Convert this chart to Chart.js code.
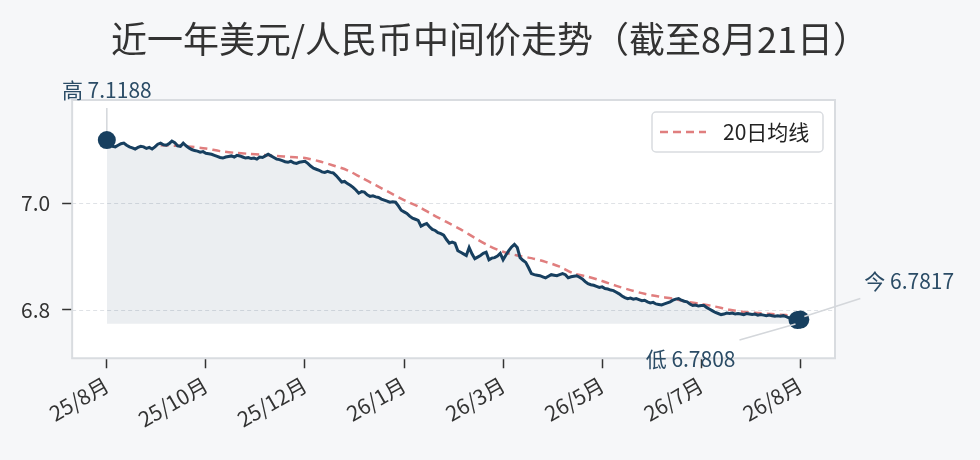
<!DOCTYPE html>
<html>
<head>
<meta charset="utf-8">
<script src="https://cdn.jsdelivr.net/npm/chart.js@4.4.1/dist/chart.umd.min.js"></script>
<style>
  html, body { margin: 0; padding: 0; background: #f6f7f9; }
  #rateChart { display: block; }
</style>
</head>
<body>
<canvas id="rateChart" width="980" height="460"></canvas>
<script>
'use strict'

var FONT = '"Noto Sans CJK SC", "Noto Sans", sans-serif';

var chartTitle = '近一年美元/人民币中间价走势（截至8月21日）';
var maLabel = '20日均线';

// x axis: trading-day index, month labels at every 35th day
var xTickIndex = [0, 35, 70, 105, 140, 175, 210, 245];
var xTickLabels = ['25/8月', '25/10月', '25/12月', '26/1月', '26/3月', '26/5月', '26/7月', '26/8月'];
var yTickValues = [6.8, 7.0];

// daily central parity
var rates = [
  7.1188, 7.110, 7.107, 7.106, 7.109, 7.112, 7.113, 7.109, 7.106, 7.104,
  7.102, 7.105, 7.107, 7.106, 7.103, 7.105, 7.102, 7.106, 7.111, 7.113,
  7.110, 7.109, 7.112, 7.117, 7.114, 7.108, 7.107, 7.113, 7.108, 7.104,
  7.101, 7.099, 7.098, 7.096, 7.097, 7.094, 7.093, 7.092, 7.090, 7.088,
  7.086, 7.085, 7.087, 7.088, 7.089, 7.087, 7.090, 7.089, 7.087, 7.085,
  7.086, 7.084, 7.085, 7.083, 7.087, 7.086, 7.089, 7.092, 7.089, 7.086,
  7.083, 7.082, 7.080, 7.078, 7.077, 7.079, 7.076, 7.075, 7.077, 7.078,
  7.079, 7.075, 7.070, 7.066, 7.064, 7.062, 7.059, 7.058, 7.060, 7.058,
  7.057, 7.052, 7.046, 7.040, 7.041, 7.037, 7.034, 7.030, 7.025, 7.019,
  7.022, 7.021, 7.016, 7.013, 7.014, 7.012, 7.011, 7.008, 7.006, 7.004,
  7.002, 7.003, 7.002, 6.995, 6.987, 6.984, 6.981, 6.976, 6.972, 6.970,
  6.968, 6.957, 6.960, 6.962, 6.956, 6.951, 6.949, 6.945, 6.943, 6.940,
  6.932, 6.925, 6.927, 6.925, 6.911, 6.908, 6.905, 6.902, 6.917, 6.905,
  6.896, 6.899, 6.902, 6.906, 6.908, 6.894, 6.897, 6.898, 6.901, 6.906,
  6.894, 6.903, 6.911, 6.918, 6.923, 6.917, 6.898, 6.893, 6.889, 6.879,
  6.868, 6.866, 6.865, 6.864, 6.862, 6.860, 6.863, 6.866, 6.865, 6.864,
  6.866, 6.868, 6.866, 6.860, 6.862, 6.863, 6.864, 6.861, 6.858, 6.853,
  6.849, 6.847, 6.846, 6.844, 6.842, 6.843, 6.840, 6.839, 6.837, 6.836,
  6.833, 6.830, 6.826, 6.823, 6.821, 6.822, 6.820, 6.821, 6.819, 6.817,
  6.818, 6.815, 6.813, 6.814, 6.811, 6.810, 6.809, 6.811, 6.813, 6.815,
  6.818, 6.820, 6.821, 6.818, 6.816, 6.815, 6.811, 6.808, 6.809, 6.807,
  6.808, 6.808, 6.804, 6.801, 6.798, 6.795, 6.793, 6.791, 6.792, 6.794,
  6.793, 6.794, 6.792, 6.793, 6.792, 6.791, 6.793, 6.792, 6.791, 6.792,
  6.790, 6.791, 6.790, 6.789, 6.790, 6.789, 6.788, 6.789, 6.788, 6.789,
  6.787, 6.785, 6.783, 6.7815, 6.7808, 6.7817
];

// 20-day average
var maIndex = [19, 25, 30, 35, 40, 45, 50, 55, 60, 65, 70, 75, 80, 85, 90, 95,
  100, 105, 110, 115, 120, 125, 130, 135, 140, 145, 150, 155, 160, 165, 170,
  175, 180, 185, 190, 195, 200, 205, 210, 215, 220, 225, 230, 235, 240, 245];
var maValues = [7.109, 7.108, 7.106, 7.103, 7.098, 7.095, 7.093, 7.091, 7.089,
  7.087, 7.085, 7.079, 7.071, 7.062, 7.048, 7.034, 7.020, 7.006, 6.994, 6.979,
  6.965, 6.951, 6.935, 6.920, 6.909, 6.902, 6.897, 6.890, 6.881, 6.868, 6.862,
  6.854, 6.845, 6.837, 6.830, 6.825, 6.821, 6.815, 6.811, 6.806, 6.800, 6.796,
  6.794, 6.792, 6.790, 6.788];

var highIndex = 0;
var lowIndex = 244;
var lastIndex = rates.length - 1;
var fillBase = 6.7736;

var ratePoints = rates.map(function (v, i) { return { x: i, y: v }; });
var maPoints = maValues.map(function (v, i) { return { x: maIndex[i], y: v }; });

// title centred on the page, white plot area, frame and dashed grid
var framePlugin = {
  id: 'frame',
  beforeDatasetsDraw: function (chart) {
    var c = chart.ctx, a = chart.chartArea, y = chart.scales.y;
    c.save();
    c.fillStyle = '#333333';
    c.font = '36px ' + FONT;
    c.textAlign = 'center';
    c.textBaseline = 'middle';
    c.fillText(chartTitle, chart.width / 2, 39);

    c.fillStyle = '#ffffff';
    c.fillRect(a.left, a.top, a.right - a.left, a.bottom - a.top);
    c.strokeStyle = '#dfe2e6';
    c.lineWidth = 1;
    c.setLineDash([4, 3]);
    yTickValues.forEach(function (v) {
      var py = Math.round(y.getPixelForValue(v)) + 0.5;
      c.beginPath();
      c.moveTo(a.left, py);
      c.lineTo(a.right, py);
      c.stroke();
    });
    c.setLineDash([]);
    c.strokeStyle = '#d9dce0';
    c.lineWidth = 2;
    c.strokeRect(a.left, a.top, a.right - a.left, a.bottom - a.top);
    c.restore();
  }
};

// labels for high / low / latest plus the small legend box
var notesPlugin = {
  id: 'notes',
  afterDatasetsDraw: function (chart) {
    var c = chart.ctx, x = chart.scales.x, y = chart.scales.y, a = chart.chartArea;
    var hx = x.getPixelForValue(highIndex), hy = y.getPixelForValue(rates[highIndex]);
    var lx = x.getPixelForValue(lowIndex), ly = y.getPixelForValue(rates[lowIndex]);
    var nx = x.getPixelForValue(lastIndex), ny = y.getPixelForValue(rates[lastIndex]);

    c.save();
    c.strokeStyle = '#d4d7db';
    c.lineWidth = 1.5;
    c.beginPath();
    c.moveTo(hx, hy - 9); c.lineTo(hx, hy - 32);
    c.moveTo(lx - 2, ly + 4); c.lineTo(lx - 58, ly + 20);
    c.moveTo(nx + 4, ny - 3); c.lineTo(nx + 60, ny - 21);
    c.stroke();

    c.fillStyle = '#2b4c66';
    c.font = '21px ' + FONT;
    c.textBaseline = 'middle';
    c.textAlign = 'center';
    c.fillText('高 ' + rates[highIndex].toFixed(4), hx, hy - 50);
    c.textAlign = 'right';
    c.fillText('低 ' + rates[lowIndex].toFixed(4), lx - 62, ly + 39);
    c.textAlign = 'left';
    c.fillText('今 ' + rates[lastIndex].toFixed(4), nx + 64, ny - 39);

    // legend
    var bw = 171, bh = 40, bx = a.right - 12 - bw, by = a.top + 12;
    c.fillStyle = 'rgba(255,255,255,0.9)';
    c.strokeStyle = '#d9dce0';
    c.lineWidth = 1.5;
    c.beginPath();
    c.roundRect(bx, by, bw, bh, 4);
    c.fill();
    c.stroke();
    c.strokeStyle = '#e07e7e';
    c.lineWidth = 2.5;
    c.setLineDash([8, 5]);
    c.beginPath();
    c.moveTo(bx + 8, by + bh / 2);
    c.lineTo(bx + 54, by + bh / 2);
    c.stroke();
    c.setLineDash([]);
    c.fillStyle = '#222222';
    c.font = '21px ' + FONT;
    c.textAlign = 'left';
    c.fillText(maLabel, bx + 71, by + bh / 2);
    c.restore();
  }
};

var ctx = document.getElementById('rateChart');

var rateChart = new Chart(ctx, {
  type: 'line',
  data: {
    datasets: [
      {
        label: '中间价',
        data: ratePoints,
        borderColor: '#173f5f',
        borderWidth: 3,
        backgroundColor: 'rgba(31,70,105,0.09)',
        fill: { value: fillBase },
        tension: 0,
        pointRadius: function (c) {
          var i = c.dataIndex;
          return (i === highIndex || i === lowIndex || i === lastIndex) ? 9 : 0;
        },
        pointBackgroundColor: '#173f5f',
        pointBorderWidth: 0,
        order: 1
      },
      {
        label: maLabel,
        data: maPoints,
        borderColor: '#e07e7e',
        borderWidth: 2.5,
        borderDash: [8, 5],
        pointRadius: 0,
        fill: false,
        tension: 0.3,
        order: 2
      }
    ]
  },
  options: {
    responsive: false,
    animation: false,
    layout: { padding: { left: 9, right: 145, top: 100, bottom: 24 } },
    plugins: {
      legend: { display: false },
      tooltip: { enabled: false },
      title: { display: false }
    },
    scales: {
      x: {
        type: 'linear',
        min: -12.25,
        max: 257.25,
        afterBuildTicks: function (axis) {
          axis.ticks = xTickIndex.map(function (v) { return { value: v }; });
        },
        ticks: {
          callback: function (v) { return xTickLabels[xTickIndex.indexOf(v)]; },
          color: '#333333',
          font: { family: FONT, size: 21 },
          minRotation: 30,
          maxRotation: 30,
          padding: 4
        },
        grid: { drawOnChartArea: false, drawTicks: true, tickLength: 10, tickColor: '#333333', tickWidth: 1.5 },
        border: { display: false }
      },
      y: {
        min: 6.709,
        max: 7.194,
        afterBuildTicks: function (axis) {
          axis.ticks = yTickValues.map(function (v) { return { value: v }; });
        },
        ticks: {
          callback: function (v) { return v.toFixed(1); },
          color: '#333333',
          font: { family: FONT, size: 21 },
          padding: 12
        },
        grid: { drawOnChartArea: false, drawTicks: true, tickLength: 10, tickColor: '#333333', tickWidth: 1.5 },
        border: { display: false }
      }
    }
  },
  plugins: [framePlugin, notesPlugin]
});
</script>
</body>
</html>
